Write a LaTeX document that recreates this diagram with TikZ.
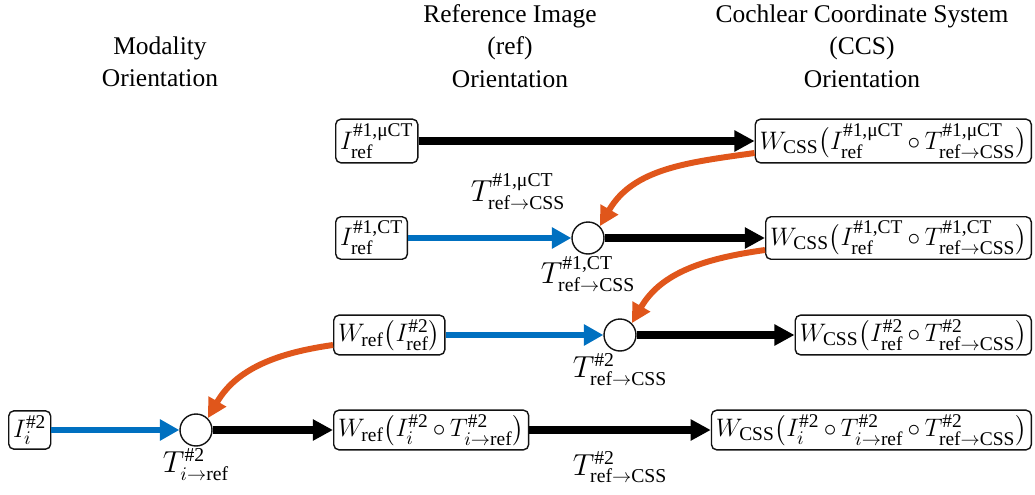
\documentclass[tikz,border=0pt]{standalone}
\usepackage{amsmath}
\usepackage{fontspec}
\setmainfont{Liberation Serif}
\usetikzlibrary{arrows.meta,positioning}
\definecolor{regblue}{HTML}{0070C0}
\definecolor{regorange}{HTML}{E0561B}
\definecolor{regink}{HTML}{121212}
\newcommand{\rf}{\mathrm{ref}}
\newcommand{\css}{\mathrm{CSS}}
\newcommand{\tocss}{\mathrm{ref}\rightarrow\mathrm{CSS}}
\newcommand{\mct}{\text{\#1,μCT}}
\newcommand{\cct}{\text{\#1,CT}}
\newcommand{\ntwo}{\text{\#2}}
\medmuskip=3mu

\begin{document}
\begin{tikzpicture}[x=0.02cm,y=-0.02cm,
    font=\fontsize{14.5}{18.5}\selectfont,
    imgbox/.style={draw=regink,rounded corners=3pt,inner xsep=2.5pt,inner ysep=2.5pt,line width=0.8pt,fill=white,font=\fontsize{15.8}{19}\selectfont},
    fuse/.style={circle,draw=regink,line width=0.8pt,fill=white,minimum size=0.64cm,inner sep=0pt},
    tlabel/.style={inner sep=1pt,font=\fontsize{16}{19}\selectfont},
    blackarrow/.style={draw=black,line width=4pt,-{Triangle[length=11.5pt,width=11.5pt]}},
    bluearrow/.style={draw=regblue,line width=3.6pt,-{Triangle[length=11pt,width=11.5pt]}},
    orangearrow/.style={draw=regorange,line width=3.4pt,-{Triangle[length=11pt,width=11pt]}}]
  \useasboundingbox (0,0) rectangle (1035,494);
  % column headers
  \node[align=center] (hmod) at (160,62) {Modality\\Orientation};
  \node[align=center] (href) at (510,46) {Reference Image\\(ref)\\Orientation};
  \node[align=center] (hccs) at (862,46) {Cochlear Coordinate System\\(CCS)\\Orientation};
  % row 1: muCT
  \node[imgbox,anchor=west] (muct) at (335,141) {$I^{\mct}_{\rf}$};
  \node[imgbox,anchor=east] (wmuct) at (1032,141) {$W_{\css}\bigl(I^{\mct}_{\rf}\circ T^{\mct}_{\tocss}\bigr)$};
  \draw[blackarrow] (muct) -- (wmuct);
  \node[tlabel] (tmuct) at (518,192) {$T^{\mct}_{\tocss}$};
  % row 2: CT
  \node[imgbox,anchor=west] (ct) at (335,238) {$I^{\cct}_{\rf}$};
  \node[fuse] (fct) at (588,238) {};
  \node[imgbox,anchor=east] (wct) at (1032,238) {$W_{\css}\bigl(I^{\cct}_{\rf}\circ T^{\cct}_{\tocss}\bigr)$};
  \draw[bluearrow] (ct) -- (fct);
  \draw[blackarrow] (fct) -- (wct);
  \node[tlabel,below=0pt of fct] (tct) {$T^{\cct}_{\tocss}$};
  % row 3: second image in ref
  \node[imgbox,anchor=west] (wref) at (333,335) {$W_{\rf}\bigl(I^{\ntwo}_{\rf}\bigr)$};
  \node[fuse] (fref) at (620,335) {};
  \node[imgbox,anchor=east] (wcss) at (1032,335) {$W_{\css}\bigl(I^{\ntwo}_{\rf}\circ T^{\ntwo}_{\tocss}\bigr)$};
  \draw[bluearrow] (wref) -- (fref);
  \draw[blackarrow] (fref) -- (wcss);
  \node[tlabel,below=0pt of fref] (tref) {$T^{\ntwo}_{\tocss}$};
  % row 4: modality
  \node[imgbox,anchor=west] (img) at (8,430) {$I^{\ntwo}_{i}$};
  \node[fuse] (fimg) at (196,430) {};
  \node[imgbox,anchor=west] (wrefi) at (333,430) {$W_{\rf}\bigl(I^{\ntwo}_{i}\circ T^{\ntwo}_{i\rightarrow\rf}\bigr)$};
  \node[imgbox,anchor=east] (wcssi) at (1032,430) {$W_{\css}\bigl(I^{\ntwo}_{i}\circ T^{\ntwo}_{i\rightarrow\rf}\circ T^{\ntwo}_{\tocss}\bigr)$};
  \draw[bluearrow] (img) -- (fimg);
  \draw[blackarrow] (fimg) -- (wrefi);
  \draw[blackarrow] (wrefi) -- (wcssi);
  \node[tlabel,below=0pt of fimg] (timg) {$T^{\ntwo}_{i\rightarrow\rf}$};
  \node[tlabel] (tcssi) at (620,467) {$T^{\ntwo}_{\tocss}$};
  % transforms handed down
  \draw[orangearrow] ([yshift=-0.24cm]wmuct.west) to[out=188,in=60] (fct.north east);
  \draw[orangearrow] ([yshift=-0.24cm]wct.west) to[out=188,in=60] (fref.north east);
  \draw[orangearrow] ([yshift=-0.2cm]wref.west) to[out=188,in=60] (fimg.north east);
\end{tikzpicture}
\end{document}
